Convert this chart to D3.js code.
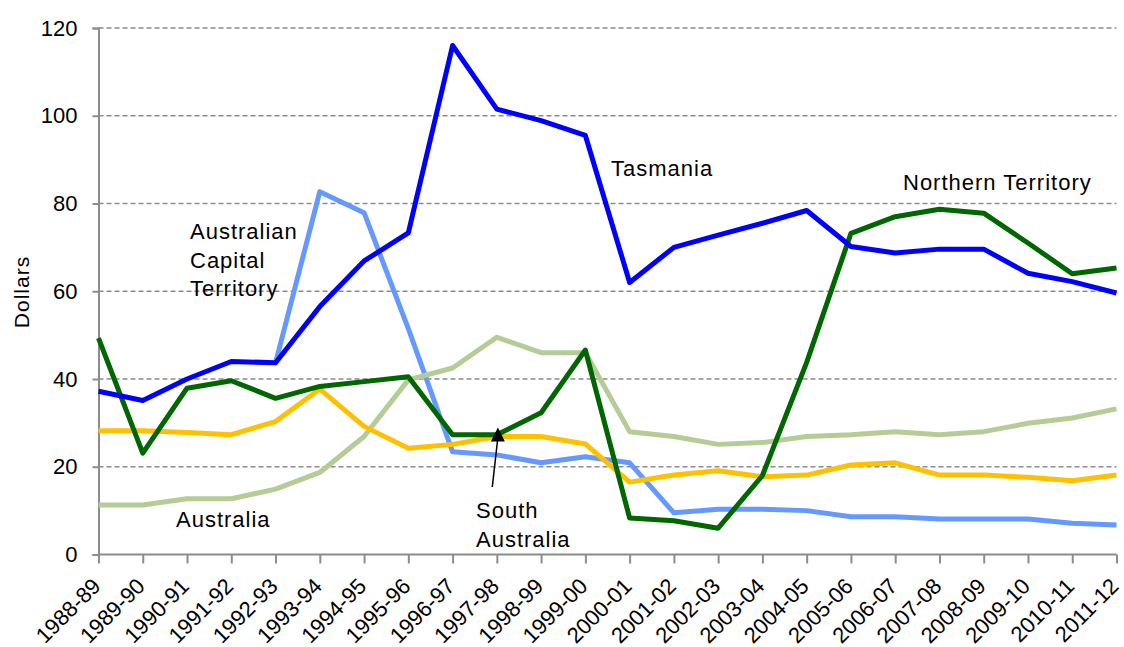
<!DOCTYPE html>
<html>
<head>
<meta charset="utf-8">
<script src="https://cdn.jsdelivr.net/npm/d3@7"></script>
<style>
  html, body { margin: 0; padding: 0; background: #fff; }
  svg { display: block; font-family: Arial, "Liberation Sans", sans-serif; }
</style>
</head>
<body>
<svg id="chart" width="1124" height="647"></svg>
<script>
// Financial years along the horizontal axis
const years = ["1988-89","1989-90","1990-91","1991-92","1992-93","1993-94","1994-95","1995-96",
  "1996-97","1997-98","1998-99","1999-00","2000-01","2001-02","2002-03","2003-04","2004-05",
  "2005-06","2006-07","2007-08","2008-09","2009-10","2010-11","2011-12"];

// Dollars per year for each jurisdiction
const act = [null,null,null,null,43.7,82.7,77.9,51.5,23.4,22.7,20.9,22.3,20.9,9.5,10.3,10.3,10.0,
  8.6,8.6,8.1,8.1,8.1,7.1,6.7];
const australia = [11.3,11.3,12.7,12.7,14.9,18.7,26.9,39.8,42.5,49.5,46.0,46.0,28.0,26.9,25.1,25.5,
  26.9,27.3,28.0,27.3,28.0,29.9,31.1,33.2];
const northernTerritory = [49.3,23.1,37.9,39.6,35.6,38.3,39.4,40.5,27.3,27.3,32.3,46.6,8.3,7.7,6.0,
  18.0,43.8,73.2,77.0,78.7,77.8,71.0,64.0,65.3];
const southAustralia = [28.2,28.2,27.8,27.3,30.3,37.7,29.2,24.2,25.1,26.9,26.9,25.2,16.5,18.1,19.1,
  17.7,18.1,20.4,20.9,18.1,18.1,17.6,16.8,18.1];
const tasmania = [37.2,35.1,40.0,44.0,43.7,56.5,66.9,73.3,116.0,101.5,98.9,95.5,62.0,70.0,72.8,75.5,
  78.4,70.2,68.7,69.6,69.6,64.1,62.2,59.6];

const yTicks = [0, 20, 40, 60, 80, 100, 120];

const series = [
  { name: "Australian Capital Territory", values: act, color: "#6699ff" },
  { name: "Australia", values: australia, color: "#b5cc97" },
  { name: "South Australia", values: southAustralia, color: "#ffc000" },
  { name: "Northern Territory", values: northernTerritory, color: "#006600" },
  { name: "Tasmania", values: tasmania, color: "#0000ff" }
];

const svg = d3.select("#chart");
const plotLeft = 98.5, plotRight = 1116.5, plotTop = 28, plotBottom = 554.5;

const x = d3.scalePoint().domain(years).range([plotLeft, plotRight]);
const y = d3.scaleLinear().domain([0, 120]).range([plotBottom, plotTop]);

const axisColor = "#8c8c8c";
const fontSize = 22;
const fontFamily = "Arial, 'Liberation Sans', sans-serif";

// Dashed horizontal gridlines
svg.append("g")
  .selectAll("line")
  .data(yTicks.filter(d => d > 0))
  .join("line")
  .attr("x1", plotLeft).attr("x2", plotRight)
  .attr("y1", d => y(d)).attr("y2", d => y(d))
  .attr("stroke", "#8c8c8c")
  .attr("stroke-width", 1.5)
  .attr("stroke-dasharray", "5,3");

// Y axis
const yAxis = svg.append("g")
  .attr("transform", `translate(${plotLeft},0)`)
  .attr("font-size", fontSize)
  .attr("font-family", fontFamily)
  .call(d3.axisLeft(y).tickValues(yTicks).tickSize(6).tickPadding(15).tickFormat(d3.format("d")));
yAxis.attr("font-size", fontSize).attr("font-family", fontFamily);
yAxis.select(".domain").attr("stroke", axisColor).attr("stroke-width", 2);
yAxis.selectAll(".tick line").attr("stroke", axisColor).attr("stroke-width", 2);
yAxis.selectAll(".tick text").attr("fill", "#000");

// X axis
const xAxis = svg.append("g")
  .attr("transform", `translate(0,${plotBottom})`)
  .call(d3.axisBottom(x).tickSize(9).tickSizeOuter(0).tickFormat(d => d));
xAxis.attr("font-size", fontSize).attr("font-family", fontFamily);
xAxis.select(".domain").attr("stroke", axisColor).attr("stroke-width", 2)
  .attr("d", `M${plotLeft},0H${plotRight}`);
xAxis.selectAll(".tick line").attr("stroke", axisColor).attr("stroke-width", 2);
xAxis.selectAll(".tick text")
  .attr("fill", "#000")
  .attr("text-anchor", "end")
  .attr("dy", null)
  .attr("y", null)
  .attr("transform", "translate(3,33) rotate(-45)");

// Series lines
const line = d3.line()
  .defined(d => d.v != null)
  .x(d => x(d.year))
  .y(d => y(d.v));

svg.append("g")
  .selectAll("path")
  .data(series)
  .join("path")
  .attr("fill", "none")
  .attr("stroke", d => d.color)
  .attr("stroke-width", 5)
  .attr("stroke-linejoin", "round")
  .attr("d", d => line(years.map((yr, i) => ({ year: yr, v: d.values[i] }))));

// Y axis title
svg.append("text")
  .attr("transform", "translate(29,292) rotate(-90)")
  .attr("text-anchor", "middle")
  .attr("font-size", 21)
  .attr("letter-spacing", 1)
  .text("Dollars");

// Series labels
const labels = [
  { lines: ["Australian", "Capital", "Territory"], x: 190, y: 239 },
  { lines: ["Tasmania"], x: 611, y: 176 },
  { lines: ["Northern Territory"], x: 903, y: 190 },
  { lines: ["Australia"], x: 176, y: 527 },
  { lines: ["South", "Australia"], x: 476, y: 518 }
];
labels.forEach(l => {
  const t = svg.append("text")
    .attr("x", l.x).attr("y", l.y)
    .attr("font-size", fontSize)
    .attr("letter-spacing", 1)
    .attr("fill", "#000");
  l.lines.forEach((s, i) => {
    t.append("tspan").attr("x", l.x).attr("dy", i === 0 ? 0 : 28.5).text(s);
  });
});

// Arrow pointing at the South Australia series
const saIdx = years.indexOf("1997-98");
const tipX = x(years[saIdx]) + 1, tipY = y(southAustralia[saIdx]) - 9;
svg.append("line")
  .attr("x1", 492.3).attr("y1", 487)
  .attr("x2", tipX).attr("y2", tipY + 10)
  .attr("stroke", "#000").attr("stroke-width", 1.5);
svg.append("path")
  .attr("d", `M${tipX},${tipY}L${tipX - 7},${tipY + 14}L${tipX + 7},${tipY + 14}Z`)
  .attr("fill", "#000");
</script>
</body>
</html>
